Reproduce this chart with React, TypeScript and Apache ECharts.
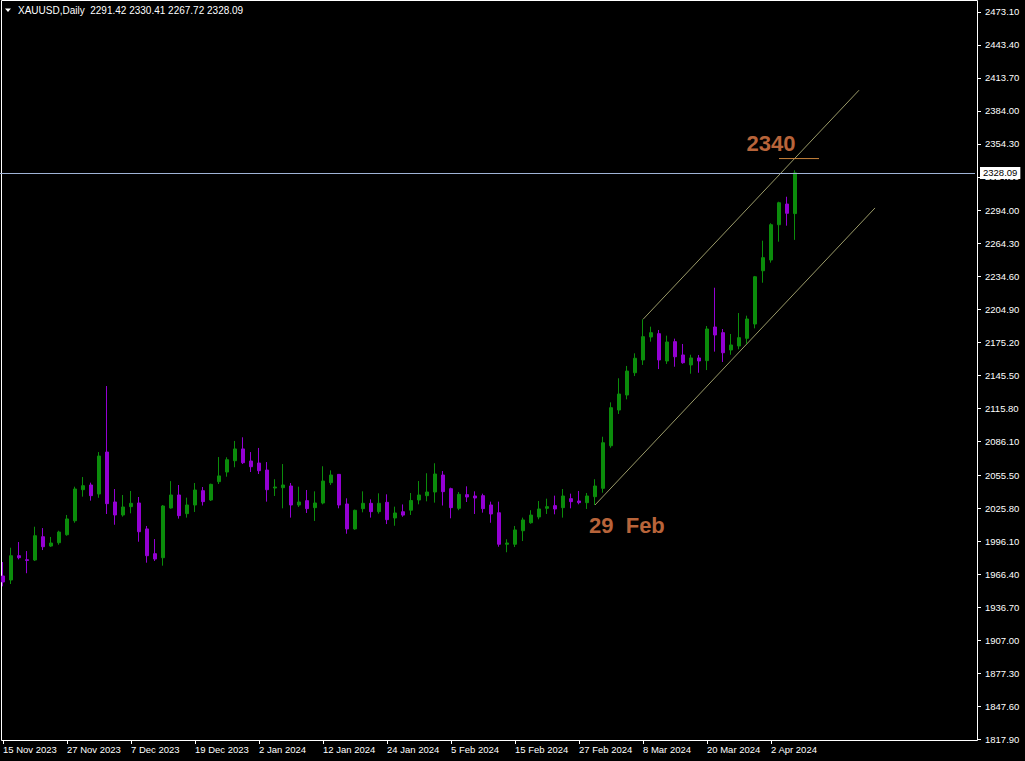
import React, { useEffect, useRef } from "react";
import * as echarts from "echarts";

// ---------- data ----------
const SYMBOL = "XAUUSD";
const PERIOD = "Daily";

const DATES = [
  "15 Nov 2023", "16 Nov 2023", "17 Nov 2023", "20 Nov 2023", "21 Nov 2023", "22 Nov 2023", "23 Nov 2023", "24 Nov 2023",
  "27 Nov 2023", "28 Nov 2023", "29 Nov 2023", "30 Nov 2023", "1 Dec 2023", "4 Dec 2023", "5 Dec 2023", "6 Dec 2023",
  "7 Dec 2023", "8 Dec 2023", "11 Dec 2023", "12 Dec 2023", "13 Dec 2023", "14 Dec 2023", "15 Dec 2023", "18 Dec 2023",
  "19 Dec 2023", "20 Dec 2023", "21 Dec 2023", "22 Dec 2023", "26 Dec 2023", "27 Dec 2023", "28 Dec 2023", "29 Dec 2023",
  "2 Jan 2024", "3 Jan 2024", "4 Jan 2024", "5 Jan 2024", "8 Jan 2024", "9 Jan 2024", "10 Jan 2024", "11 Jan 2024",
  "12 Jan 2024", "15 Jan 2024", "16 Jan 2024", "17 Jan 2024", "18 Jan 2024", "19 Jan 2024", "22 Jan 2024", "23 Jan 2024",
  "24 Jan 2024", "25 Jan 2024", "26 Jan 2024", "29 Jan 2024", "30 Jan 2024", "31 Jan 2024", "1 Feb 2024", "2 Feb 2024",
  "5 Feb 2024", "6 Feb 2024", "7 Feb 2024", "8 Feb 2024", "9 Feb 2024", "12 Feb 2024", "13 Feb 2024", "14 Feb 2024",
  "15 Feb 2024", "16 Feb 2024", "19 Feb 2024", "20 Feb 2024", "21 Feb 2024", "22 Feb 2024", "23 Feb 2024", "26 Feb 2024",
  "27 Feb 2024", "28 Feb 2024", "29 Feb 2024", "1 Mar 2024", "4 Mar 2024", "5 Mar 2024", "6 Mar 2024", "7 Mar 2024",
  "8 Mar 2024", "11 Mar 2024", "12 Mar 2024", "13 Mar 2024", "14 Mar 2024", "15 Mar 2024", "18 Mar 2024", "19 Mar 2024",
  "20 Mar 2024", "21 Mar 2024", "22 Mar 2024", "25 Mar 2024", "26 Mar 2024", "27 Mar 2024", "28 Mar 2024", "1 Apr 2024",
  "2 Apr 2024", "3 Apr 2024", "4 Apr 2024", "5 Apr 2024",
];

// empty future space to the right of the last bar
const FUTURE_DATES = [
  "8 Apr 2024", "9 Apr 2024", "10 Apr 2024", "11 Apr 2024", "12 Apr 2024", "15 Apr 2024", "16 Apr 2024", "17 Apr 2024",
  "18 Apr 2024", "19 Apr 2024", "22 Apr 2024", "23 Apr 2024", "24 Apr 2024", "25 Apr 2024", "26 Apr 2024", "29 Apr 2024",
  "30 Apr 2024", "1 May 2024", "2 May 2024", "3 May 2024", "6 May 2024", "7 May 2024",
];

const OPEN = [
  1964.8, 1961.2, 1983.1, 1979.5, 1979.2, 2000.2, 1991.8, 1994.8, 2002.0, 2014.6,
  2042.6, 2046.8, 2038.7, 2076.5, 2031.5, 2019.8, 2027.3, 2030.6, 2007.2, 1984.9,
  1981.3, 2026.1, 2037.8, 2021.0, 2028.8, 2041.7, 2033.3, 2049.8, 2058.5, 2068.7,
  2079.3, 2068.4, 2066.6, 2060.3, 2044.1, 2044.4, 2045.9, 2028.8, 2032.7, 2026.4,
  2030.6, 2048.9, 2056.4, 2029.7, 2007.2, 2025.5, 2030.3, 2022.8, 2031.2, 2017.1,
  2022.7, 2024.1, 2033.3, 2037.2, 2040.5, 2055.8, 2043.5, 2025.8, 2038.1, 2036.9,
  2037.2, 2028.8, 2021.8, 1993.4, 1993.4, 2005.6, 2012.8, 2018.0, 2025.8, 2028.2,
  2026.4, 2034.5, 2032.4, 2030.9, 2036.3, 2043.8, 2082.2, 2114.4, 2127.9, 2148.0,
  2159.5, 2180.2, 2183.2, 2158.6, 2176.0, 2164.0, 2155.0, 2161.3, 2158.9, 2189.2,
  2184.1, 2168.5, 2172.1, 2179.0, 2191.9, 2239.9, 2249.6, 2281.4, 2300.0, 2291.42,
];
const HIGH = [
  1977.4, 1990.3, 1995.4, 1987.3, 2009.2, 2008.0, 2000.0, 2005.6, 2019.8, 2045.3,
  2054.0, 2048.9, 2076.5, 2136.0, 2043.2, 2037.8, 2041.4, 2036.0, 2009.9, 1998.1,
  2028.8, 2050.3, 2046.8, 2035.4, 2048.6, 2045.0, 2048.0, 2072.0, 2071.8, 2086.5,
  2089.8, 2076.5, 2080.2, 2067.5, 2052.0, 2065.7, 2048.6, 2045.3, 2042.3, 2041.1,
  2063.7, 2060.0, 2056.7, 2034.8, 2024.6, 2041.1, 2033.9, 2039.3, 2038.4, 2027.3,
  2029.3, 2039.6, 2050.4, 2057.4, 2066.4, 2059.4, 2044.4, 2040.5, 2045.6, 2041.1,
  2039.0, 2031.8, 2031.8, 1997.9, 2009.9, 2017.4, 2024.1, 2032.4, 2034.5, 2037.2,
  2043.2, 2039.0, 2041.4, 2039.6, 2052.0, 2090.3, 2121.3, 2143.0, 2154.1, 2165.5,
  2196.1, 2189.5, 2186.5, 2181.4, 2178.7, 2173.9, 2164.2, 2164.0, 2190.1, 2224.6,
  2187.4, 2182.9, 2201.8, 2199.4, 2235.2, 2267.0, 2282.7, 2302.1, 2306.6, 2330.41,
];
const LOW = [
  1955.5, 1957.6, 1979.8, 1967.3, 1978.3, 1988.2, 1991.0, 1993.0, 2001.1, 2012.8,
  2036.3, 2032.7, 2035.3, 2020.7, 2011.0, 2018.3, 2021.3, 1995.7, 1976.8, 1978.3,
  1974.1, 2025.5, 2016.5, 2017.4, 2022.5, 2028.3, 2032.4, 2047.7, 2054.3, 2062.8,
  2065.7, 2058.5, 2056.7, 2031.8, 2036.9, 2025.8, 2017.4, 2027.0, 2021.6, 2014.4,
  2029.4, 2046.8, 2025.8, 2002.9, 2006.5, 2022.2, 2017.4, 2021.0, 2011.6, 2010.1,
  2018.2, 2019.8, 2029.4, 2032.1, 2030.9, 2028.3, 2016.8, 2024.1, 2031.5, 2020.7,
  2021.9, 2012.8, 1991.2, 1986.2, 1990.9, 1996.3, 2011.9, 2015.9, 2020.7, 2020.4,
  2017.4, 2025.8, 2029.4, 2025.2, 2028.8, 2039.9, 2080.4, 2110.8, 2124.0, 2145.0,
  2155.0, 2176.0, 2151.3, 2155.9, 2153.4, 2156.1, 2147.1, 2148.0, 2150.4, 2167.0,
  2157.7, 2164.2, 2169.1, 2173.9, 2188.0, 2229.1, 2247.2, 2266.1, 2280.5, 2267.72,
];
const CLOSE = [
  1959.4, 1983.1, 1981.3, 1978.8, 2001.1, 1991.2, 1994.5, 2004.4, 2016.2, 2043.2,
  2046.2, 2037.2, 2072.9, 2030.0, 2019.8, 2027.0, 2030.3, 2004.7, 1983.1, 1980.1,
  2027.9, 2037.8, 2019.2, 2028.8, 2042.3, 2031.8, 2047.4, 2055.0, 2069.6, 2079.3,
  2066.9, 2063.3, 2059.7, 2042.6, 2045.0, 2046.8, 2028.8, 2031.5, 2025.5, 2030.6,
  2050.4, 2055.8, 2028.8, 2007.2, 2024.0, 2030.3, 2022.8, 2030.3, 2015.6, 2021.6,
  2019.7, 2032.8, 2037.8, 2040.5, 2056.7, 2040.8, 2026.4, 2038.4, 2036.0, 2035.1,
  2025.5, 2020.7, 1993.4, 1994.5, 2006.3, 2015.3, 2019.7, 2025.2, 2027.3, 2025.2,
  2036.9, 2031.8, 2030.9, 2036.9, 2045.9, 2084.9, 2116.5, 2128.8, 2149.5, 2161.0,
  2180.5, 2184.1, 2159.5, 2175.7, 2162.4, 2157.0, 2161.3, 2158.6, 2187.4, 2182.0,
  2166.0, 2173.0, 2179.6, 2196.4, 2234.5, 2251.7, 2281.4, 2301.2, 2291.7, 2328.09,
];

const Y_TICKS = [
  "1817.90", "1847.60", "1877.30", "1907.00", "1936.70", "1966.40", "1996.10", "2025.80",
  "2055.50", "2086.10", "2115.80", "2145.50", "2175.20", "2204.90", "2234.60", "2264.30",
  "2294.00", "2324.60", "2354.30", "2384.00", "2413.70", "2443.40", "2473.10",
];

// channel & annotation lines as [bar index, price]
const CHANNEL_UPPER = [[80, 2196.1], [107, 2402.6]];
const CHANNEL_LOWER = [[74, 2028.8], [109, 2296.5]];
const LEVEL_LINE = [[97, 2341], [102, 2341]];
const LEVEL_TEXT = "2340";
const DATE_TEXT = "29  Feb";

// ---------- style ----------
const GREEN = "#0b8c0b";
const VIOLET = "#9400d3";
const CHANNEL_COLOR = "#9a9a68";
const PRICE_LINE = "#9fb3d6";
const LEVEL_COLOR = "#c8843c";
const NOTE_COLOR = "#b8643a";
const FONT = "Liberation Sans";

export default function App() {
  const ref = useRef<HTMLDivElement>(null);

  useEffect(() => {
    if (!ref.current) return;
    const chart = echarts.init(ref.current, undefined, { renderer: "svg" });
    const last = DATES.length - 1;
    const showLabel = (index: number) => index % 8 === 0 && index < DATES.length;
    const candles = OPEN.map((o, i) => [o, CLOSE[i], LOW[i], HIGH[i]]);
    const tickVals = Y_TICKS.map(Number);
    const header =
      `${SYMBOL},${PERIOD}  ${OPEN[last].toFixed(2)} ${HIGH[last].toFixed(2)} ${LOW[last].toFixed(2)} ${CLOSE[last].toFixed(2)}`;

    const option: any = {
      animation: false,
      backgroundColor: "#000",
      grid: { left: -1, top: 1, width: 976, height: 739, containLabel: false, outerBoundsMode: "none" },
      xAxis: {
        type: "category",
        data: [...DATES, ...FUTURE_DATES],
        boundaryGap: true,
        axisLine: { show: false },
        axisTick: {
          show: true,
          alignWithLabel: true,
          length: 4,
          interval: (i: number) => showLabel(i),
          lineStyle: { color: "#fff" },
        },
        axisLabel: {
          interval: (i: number) => showLabel(i),
          align: "left",
          color: "#fff",
          fontFamily: FONT,
          fontSize: 9.5,
          margin: 4,
        },
        splitLine: { show: false },
      },
      yAxis: {
        type: "value",
        position: "right",
        offset: 2,
        min: 1817,
        max: 2483,
        axisLine: { show: false },
        axisTick: { show: true, length: 4, lineStyle: { color: "#fff" }, customValues: tickVals },
        axisLabel: {
          customValues: tickVals,
          formatter: (v: number) => {
            const s = Y_TICKS.find((t) => Math.abs(Number(t) - v) < 0.001);
            return s ?? "";
          },
          color: "#fff",
          fontFamily: FONT,
          fontSize: 9.5,
          margin: 8,
        },
        splitLine: { show: false },
      },
      series: [
        {
          type: "candlestick",
          data: candles,
          barWidth: 4,
          itemStyle: {
            color: GREEN,
            color0: VIOLET,
            borderColor: GREEN,
            borderColor0: VIOLET,
            borderWidth: 1,
          },
          z: 3,
        },
        {
          type: "line",
          name: "price",
          data: [],
          symbol: "none",
          silent: true,
          color: PRICE_LINE,
          lineStyle: { color: PRICE_LINE },
          markLine: {
            silent: true,
            symbol: ["none", "none"],
            lineStyle: { color: PRICE_LINE, width: 1, type: "solid", opacity: 1 },
            label: {
              show: true,
              position: "end",
              distance: 5,
              formatter: CLOSE[last].toFixed(2),
              backgroundColor: "#fff",
              color: "#000",
              padding: [1, 3],
              fontFamily: FONT,
              fontSize: 9.5,
            },
            data: [{ yAxis: CLOSE[last] }],
          },
          z: 4,
        },
        {
          type: "line",
          data: CHANNEL_UPPER,
          symbol: "none",
          silent: true,
          lineStyle: { color: CHANNEL_COLOR, width: 1 },
          z: 2,
        },
        {
          type: "line",
          data: CHANNEL_LOWER,
          symbol: "none",
          silent: true,
          lineStyle: { color: CHANNEL_COLOR, width: 1 },
          z: 2,
        },
        {
          type: "line",
          data: LEVEL_LINE,
          symbol: "none",
          silent: true,
          lineStyle: { color: LEVEL_COLOR, width: 1 },
          z: 2,
        },
      ],
      graphic: [
        {
          type: "rect",
          shape: { x: 1.5, y: 0.5, width: 976, height: 740 },
          style: { fill: "none", stroke: "#fff", lineWidth: 1 },
          silent: true,
        },
        {
          type: "polygon",
          shape: { points: [[5, 8.5], [11, 8.5], [8, 12]] },
          style: { fill: "#fff" },
          silent: true,
        },
        {
          type: "text",
          x: 18,
          y: 10.5,
          style: {
            text: header,
            fill: "#fff",
            font: `10px "${FONT}"`,
            textVerticalAlign: "middle",
            verticalAlign: "middle",
          },
          silent: true,
        },
        {
          type: "text",
          x: 771,
          y: 143,
          style: {
            text: LEVEL_TEXT,
            fill: NOTE_COLOR,
            font: `bold 22px "${FONT}"`,
            textAlign: "center",
            align: "center",
            verticalAlign: "middle",
            textVerticalAlign: "middle",
          },
          silent: true,
        },
        {
          type: "text",
          x: 589,
          y: 525,
          style: {
            text: DATE_TEXT,
            fill: NOTE_COLOR,
            font: `bold 22px "${FONT}"`,
            textAlign: "left",
            align: "left",
            verticalAlign: "middle",
            textVerticalAlign: "middle",
          },
          silent: true,
        },
      ],
    };

    chart.setOption(option);
    return () => chart.dispose();
  }, []);

  return (
    <div
      ref={ref}
      style={{ position: "fixed", left: 0, top: 0, width: 1025, height: 761, background: "#000" }}
    />
  );
}
